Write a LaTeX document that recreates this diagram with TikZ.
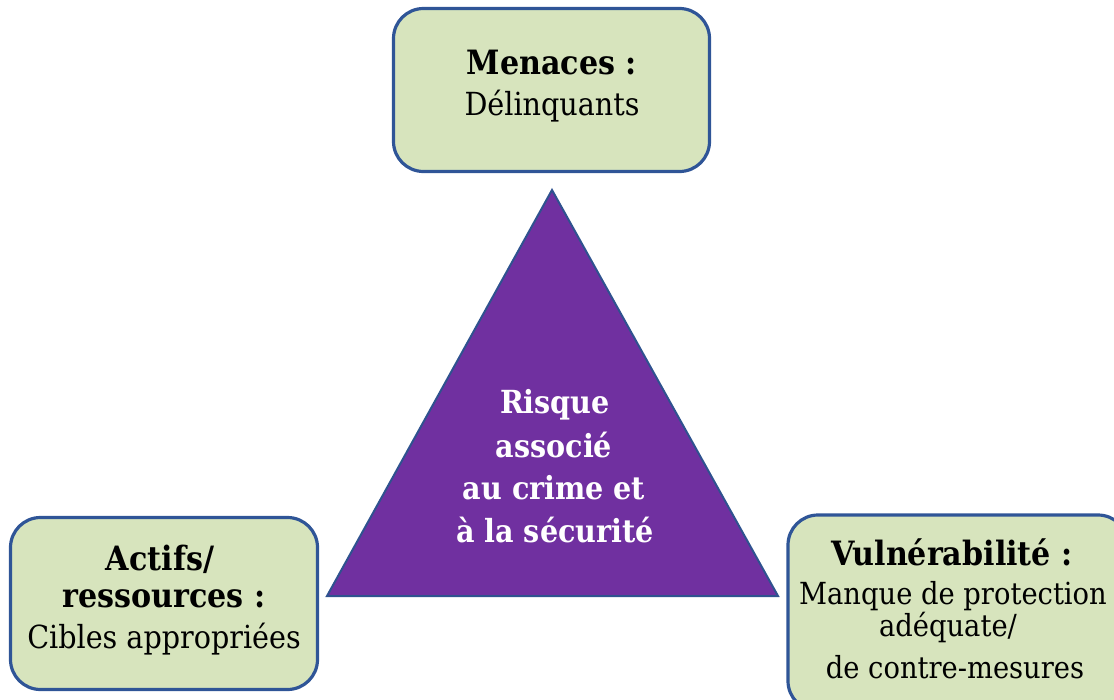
\documentclass[tikz,border=0pt]{standalone}
\usepackage{fontspec}
\setmainfont{DejaVu Serif Condensed}
\definecolor{boxfill}{HTML}{D7E4BD}
\definecolor{boxline}{HTML}{2F5597}
\definecolor{tripurple}{HTML}{7030A0}
\definecolor{triline}{HTML}{2F528F}
\begin{document}
\begin{tikzpicture}[x=1pt,y=-1pt,
  box/.style={draw=boxline, line width=3.2pt, fill=boxfill, rounded corners=30pt, inner sep=0pt},
  hd/.style={anchor=base, inner sep=0pt, font=\fontsize{33.5}{38}\selectfont\bfseries},
  bd/.style={anchor=base, inner sep=0pt, font=\fontsize{31.8}{36}\selectfont},
  tt/.style={anchor=base, inner sep=0pt, text=white, font=\fontsize{31.8}{36}\selectfont\bfseries}]
\useasboundingbox (0,0) rectangle (1114,699);
% triangle
\coordinate (apex) at (552,190);
\coordinate (bl) at (327,596);
\coordinate (br) at (778,596);
\draw[fill=tripurple, draw=triline, line width=2pt, line join=miter] (apex) -- (br) -- (bl) -- cycle;
\node[tt] (r1) at (555,413) {Risque};
\node[tt] (r2) at (554,457) {associé};
\node[tt] (r3) at (554,499) {au crime et};
\node[tt] (r4) at (555,542) {à la sécurité};
% boxes
\node[box, minimum width=316pt, minimum height=163pt] (menaces) at (551.5,90) {};
\node[hd] (m1) at (552,74) {Menaces :};
\node[bd] (m2) at (552,115) {Délinquants};
\node[box, minimum width=307pt, minimum height=172pt] (actifs) at (164,603.5) {};
\node[hd] (a1) at (160,570) {Actifs/};
\node[hd] (a2) at (164,607) {ressources :};
\node[bd] (a3) at (164,648) {Cibles appropriées};
\node[box, minimum width=340pt, minimum height=196pt] (vuln) at (958,613) {};
\node[hd] (v1) at (952,565) {Vulnérabilité :};
\node[bd, font=\fontsize{30.4}{34}\selectfont] (v2) at (953,604) {Manque de protection};
\node[bd, font=\fontsize{30.4}{34}\selectfont] (v3) at (948,636) {adéquate/};
\node[bd, font=\fontsize{30.4}{34}\selectfont] (v4) at (955,678) {de contre-mesures};
\end{tikzpicture}
\end{document}
